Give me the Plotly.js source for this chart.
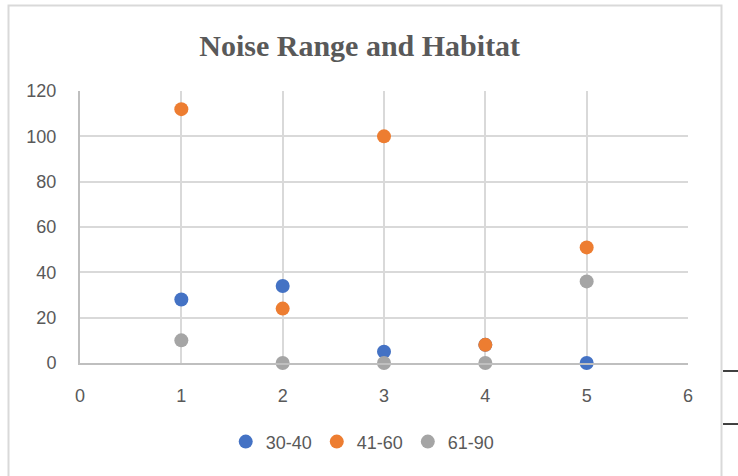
<!DOCTYPE html>
<html>
<head>
<meta charset="utf-8">
<script src="https://cdn.plot.ly/plotly-3.0.1.min.js"></script>
<style>
  html, body { margin: 0; padding: 0; background: #ffffff; }
  #chart { width: 738px; height: 476px; }
</style>
</head>
<body>
<div id="chart"></div>
<script>
// Habitat index along x, noise readings per range on y
const habitat = [1, 2, 3, 4, 5];
const range3040 = [28, 34, 5, 8, 0];
const range4160 = [112, 24, 100, 8, 51];
const range6190 = [10, 0, 0, 0, 36];
const seriesNames = ['30-40', '41-60', '61-90'];
const seriesColors = ['#4472c4', '#ed7d31', '#a5a5a5'];
const xTicks = [0, 1, 2, 3, 4, 5, 6];
const yTicks = [0, 20, 40, 60, 80, 100, 120];

const values = [range3040, range4160, range6190];
const traces = values.map((ys, i) => ({
  type: 'scatter',
  mode: 'markers',
  x: habitat,
  y: ys,
  name: seriesNames[i],
  marker: { color: seriesColors[i], size: 14, line: { width: 0 } },
  cliponaxis: false
}));

const tickFont = { family: 'Liberation Sans, Arial, sans-serif', size: 18, color: '#595959' };

const layout = {
  width: 738,
  height: 476,
  margin: { l: 80, r: 50, t: 91, b: 113 },
  paper_bgcolor: '#ffffff',
  plot_bgcolor: '#ffffff',
  title: {
    text: '<b>Noise Range and Habitat</b>',
    font: { family: 'Liberation Serif, Times New Roman, serif', size: 30, color: '#595959' },
    x: 0.46, xref: 'paper', xanchor: 'center',
    y: 0.905, yref: 'container', yanchor: 'middle'
  },
  xaxis: {
    range: [0, 6],
    tickvals: xTicks,
    ticktext: xTicks.map(String),
    showgrid: true,
    gridcolor: '#d9d9d9',
    gridwidth: 2,
    showline: true,
    linecolor: '#bfbfbf',
    linewidth: 2,
    zeroline: false,
    ticks: '',
    ticklabelstandoff: 15,
    tickfont: tickFont,
    fixedrange: true
  },
  yaxis: {
    range: [0, 120],
    tickvals: yTicks,
    ticktext: yTicks.map(String),
    showgrid: true,
    gridcolor: '#d9d9d9',
    gridwidth: 2,
    showline: true,
    linecolor: '#bfbfbf',
    linewidth: 2,
    zeroline: false,
    ticks: '',
    ticklabelstandoff: 18,
    tickfont: tickFont,
    fixedrange: true
  },
  showlegend: true,
  legend: {
    orientation: 'h',
    x: 0.465, xanchor: 'center',
    y: -0.29, yanchor: 'middle',
    font: { family: 'Liberation Sans, Arial, sans-serif', size: 18, color: '#595959' },
    itemwidth: 30,
    tracegroupgap: 0,
    bgcolor: 'rgba(0,0,0,0)'
  },
  shapes: [
    // chart frame
    { type: 'rect', xref: 'paper', yref: 'paper',
      x0: -0.1176, x1: 1.0551, y0: -0.45, y1: 1.314,
      line: { color: '#d9d9d9', width: 2 }, fillcolor: 'rgba(0,0,0,0)', layer: 'below' },
    // short rules at the right edge of the page
    { type: 'line', xref: 'paper', yref: 'paper',
      x0: 1.0576, x1: 1.09, y0: -0.0294, y1: -0.0294,
      line: { color: '#000000', width: 1.5 } },
    { type: 'line', xref: 'paper', yref: 'paper',
      x0: 1.0576, x1: 1.09, y0: -0.2243, y1: -0.2243,
      line: { color: '#000000', width: 1.5 } }
  ]
};

Plotly.newPlot('chart', traces, layout, { displayModeBar: false, staticPlot: true });
</script>
</body>
</html>
